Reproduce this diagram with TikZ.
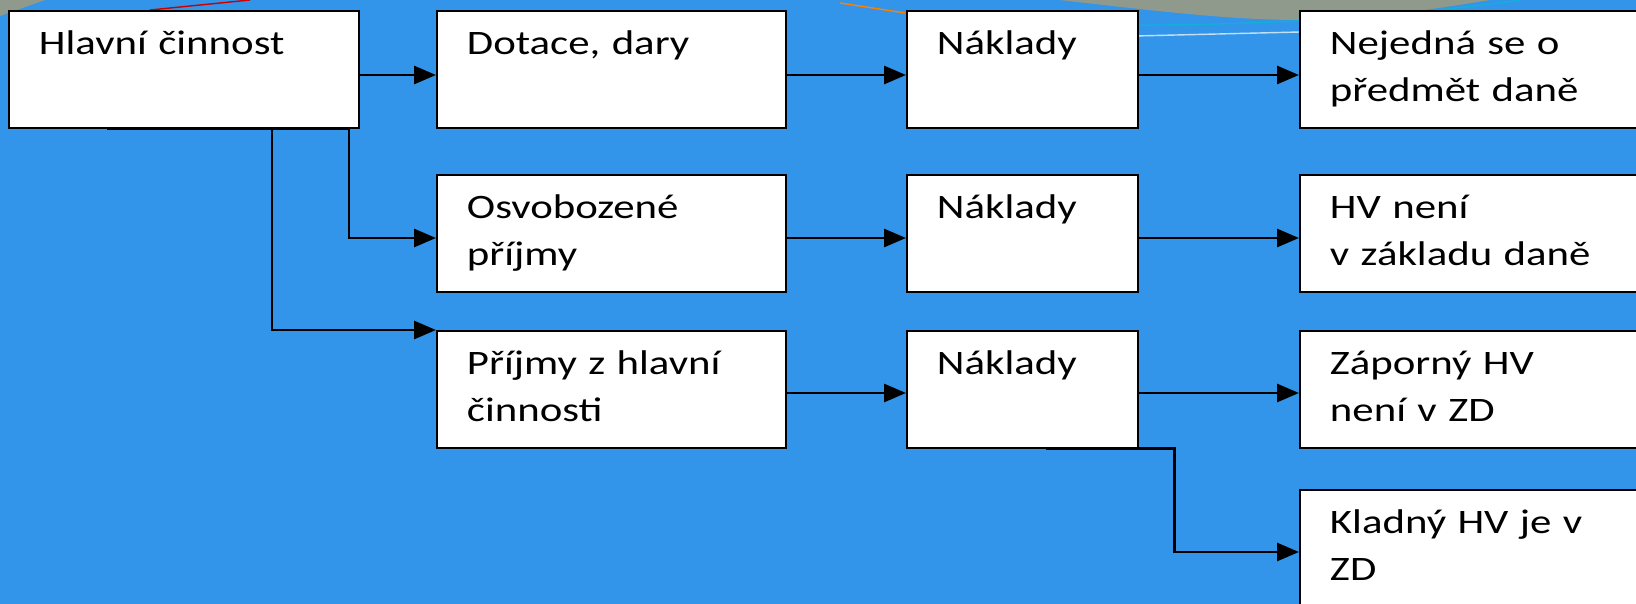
\documentclass[tikz,border=0pt]{standalone}
\usepackage{fontspec}
\setmainfont{Carlito}[FakeStretch=1.25]
\usetikzlibrary{arrows.meta}
\definecolor{slideblue}{RGB}{51,149,233}
\definecolor{slidegrey}{RGB}{143,154,140}
\definecolor{slidecyan}{RGB}{20,175,215}

\begin{document}
\begin{tikzpicture}[x=0.02cm, y=-0.02cm,
    box/.style={draw, line width=1.1pt, fill=white, anchor=north west,
        inner xsep=0.6cm, inner ysep=0pt, align=left, text width=#1,
        text height=0.88cm, text depth=1.46cm,
        font=\fontsize{19.5}{26.7}\selectfont},
    conn/.style={line width=1.7pt, -{Triangle[length=0.44cm, width=0.36cm]}},
    plain/.style={line width=1.7pt}]
    \useasboundingbox (0,0) rectangle (1636,604);
    \clip (0,0) rectangle (1636,604);

    % Background
    \fill[slideblue] (0,0) rectangle (1636,604);
    \fill[slidegrey] (1060,0) .. controls (1180,14) and (1240,20) .. (1300,20)
        .. controls (1380,18) and (1440,8) .. (1490,0) -- cycle;
    \draw[slidecyan, line width=0.8pt] (1120,25) .. controls (1220,26) and (1380,20) .. (1520,0);
    \draw[white!70!slideblue, line width=0.8pt] (1135,36) -- (1300,32);
    \draw[orange, line width=0.8pt] (840,3) -- (905,13);
    \fill[slidegrey] (0,0) -- (45,0) -- (0,16) -- cycle;
    \draw[red!80!black, line width=0.8pt] (150,10) -- (250,0);

    % Boxes
    \node[box=5.8cm] (hc) at (8,10) {Hlavní činnost};

    \node[box=5.78cm] (dot) at (436,10) {Dotace, dary};
    \node[box=5.78cm] (osv) at (436,174) {Osvobozené\\příjmy};
    \node[box=5.78cm] (prij) at (436,330) {Příjmy z hlavní\\činnosti};

    \node[box=3.42cm] (nak1) at (906,10) {Náklady};
    \node[box=3.42cm] (nak2) at (906,174) {Náklady};
    \node[box=3.42cm] (nak3) at (906,330) {Náklady};

    \node[box=5.8cm] (nej) at (1299,10) {Nejedná se o\\předmět daně};
    \node[box=5.8cm] (hvn) at (1299,174) {HV není\\v základu daně};
    \node[box=5.8cm] (zap) at (1299,330) {Záporný HV\\není v ZD};
    \node[box=5.8cm] (kla) at (1299,489) {Kladný HV je v\\ZD};

    % Connectors
    \draw[conn] (hc.east |- 0,75) -- (dot.west |- 0,75);
    \draw[conn] (dot.east |- 0,75) -- (nak1.west |- 0,75);
    \draw[conn] (nak1.east |- 0,75) -- (nej.west |- 0,75);

    \draw[conn] (hc.south -| 107,0) -- (hc.south -| 349,0) |- (osv.west |- 0,238);
    \draw[conn] (hc.south -| 272,0) |- (prij.north west);
    \draw[conn] (osv.east |- 0,238) -- (nak2.west |- 0,238);
    \draw[conn] (nak2.east |- 0,238) -- (hvn.west |- 0,238);

    \draw[conn] (prij.east |- 0,393) -- (nak3.west |- 0,393);
    \draw[conn] (nak3.east |- 0,393) -- (zap.west |- 0,393);
    \draw[conn] (nak3.south -| 1046,0) -- (nak3.south -| 1174,0) |- (kla.west |- 0,552);
\end{tikzpicture}
\end{document}
